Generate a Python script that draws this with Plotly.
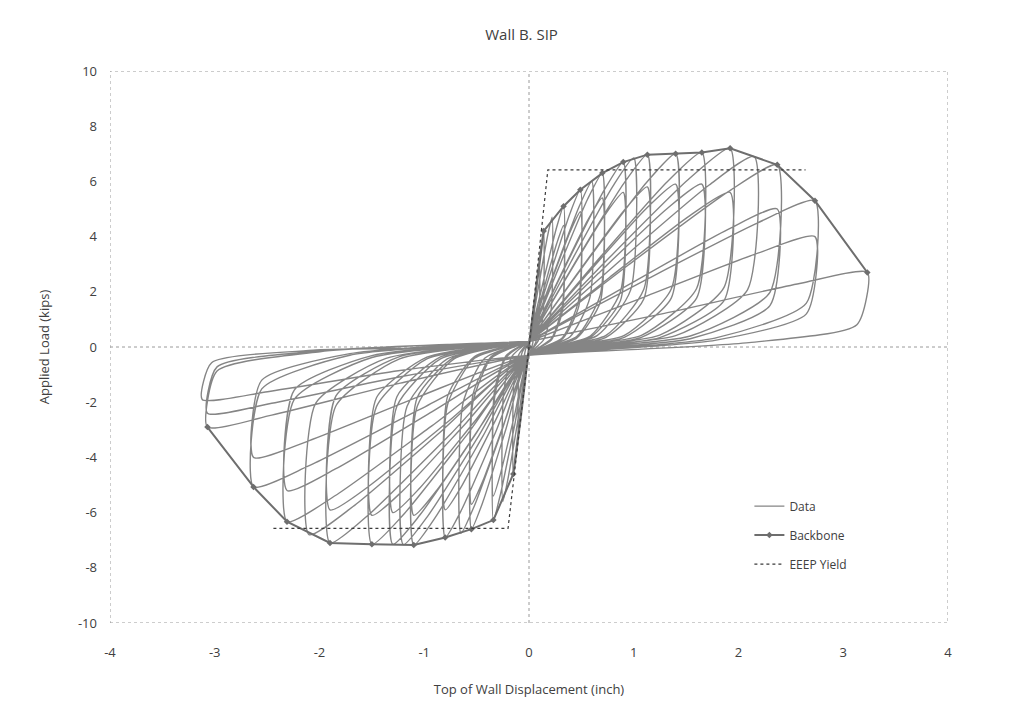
import plotly.graph_objects as go

# ---------------- data ----------------
title_text = "Wall B. SIP"
x_title = "Top of Wall Displacement (inch)"
y_title = "Applied Load (kips)"

x_ticks = [-4, -3, -2, -1, 0, 1, 2, 3, 4]
x_tick_labels = ["-4", "-3", "-2", "-1", "0", "1", "2", "3", "4"]
y_ticks = [-10, -8, -6, -4, -2, 0, 2, 4, 6, 8, 10]
y_tick_labels = ["-10", "-8", "-6", "-4", "-2", "0", "2", "4", "6", "8", "10"]

# hysteresis loops (displacement in inch, load in kips), one list per cycle
loop_disp = [
    [0, 0.02, 0.04, 0.05, 0.048, 0.033, 0, -0.02, -0.04, -0.05, -0.048, -0.033, 0],
    [0, 0.04, 0.08, 0.1, 0.097, 0.065, 0, -0.04, -0.08, -0.1, -0.097, -0.065, 0],
    [0, 0.056, 0.112, 0.14, 0.136, 0.091, 0, -0.06, -0.12, -0.15, -0.146, -0.098, 0],
    [0, 0.088, 0.176, 0.22, 0.213, 0.143, 0, -0.1, -0.2, -0.25, -0.243, -0.163, 0],
    [0, 0.132, 0.264, 0.33, 0.32, 0.215, 0, -0.136, -0.272, -0.34, -0.33, -0.221, 0],
    [0, 0.132, 0.264, 0.33, 0.32, 0.215, 0, -0.136, -0.272, -0.34, -0.33, -0.221, 0],
    [0, 0.196, 0.392, 0.49, 0.475, 0.319, 0, -0.22, -0.44, -0.55, -0.534, -0.358, 0],
    [0, 0.196, 0.392, 0.49, 0.475, 0.319, 0, -0.22, -0.44, -0.55, -0.534, -0.358, 0],
    [0, 0.24, 0.48, 0.6, 0.582, 0.39, 0, -0.26, -0.52, -0.65, -0.63, -0.423, 0],
    [0, 0.28, 0.56, 0.7, 0.68, 0.455, 0, -0.32, -0.64, -0.8, -0.776, -0.52, 0],
    [0, 0.28, 0.56, 0.7, 0.68, 0.455, 0, -0.32, -0.64, -0.8, -0.776, -0.52, 0],
    [0, 0.36, 0.72, 0.9, 0.873, 0.585, 0, -0.44, -0.88, -1.1, -1.067, -0.715, 0],
    [0, 0.36, 0.72, 0.9, 0.873, 0.585, 0, -0.44, -0.88, -1.1, -1.067, -0.715, 0],
    [0, 0.4, 0.8, 1.0, 0.97, 0.65, 0, -0.48, -0.96, -1.2, -1.164, -0.78, 0],
    [0, 0.452, 0.904, 1.13, 1.096, 0.735, 0, -0.52, -1.04, -1.3, -1.261, -0.845, 0],
    [0, 0.452, 0.904, 1.13, 1.096, 0.735, 0, -0.52, -1.04, -1.3, -1.261, -0.845, 0],
    [0, 0.56, 1.12, 1.4, 1.358, 0.91, 0, -0.6, -1.2, -1.5, -1.455, -0.975, 0],
    [0, 0.56, 1.12, 1.4, 1.358, 0.91, 0, -0.6, -1.2, -1.5, -1.455, -0.975, 0],
    [0, 0.66, 1.32, 1.65, 1.6, 1.073, 0, -0.76, -1.52, -1.9, -1.843, -1.235, 0],
    [0, 0.66, 1.32, 1.65, 1.6, 1.073, 0, -0.76, -1.52, -1.9, -1.843, -1.235, 0],
    [0, 0.768, 1.536, 1.92, 1.862, 1.248, 0, -0.924, -1.848, -2.31, -2.241, -1.5, 0],
    [0, 0.768, 1.536, 1.92, 1.862, 1.248, 0, -0.924, -1.848, -2.31, -2.241, -1.5, 0],
    [0, 0.86, 1.72, 2.15, 2.086, 1.4, 0, -0.84, -1.68, -2.1, -2.037, -1.365, 0],
    [0, 0.948, 1.896, 2.37, 2.3, 1.54, 0, -1.052, -2.104, -2.63, -2.551, -1.71, 0],
    [0, 0.948, 1.896, 2.37, 2.3, 1.54, 0, -1.052, -2.104, -2.63, -2.551, -1.71, 0],
    [0, 1.092, 2.184, 2.73, 2.648, 1.775, 0, -1.228, -2.456, -3.07, -2.978, -1.996, 0],
    [0, 1.092, 2.184, 2.73, 2.648, 1.775, 0, -1.228, -2.456, -3.07, -2.978, -1.996, 0],
    [0, 1.292, 2.584, 3.23, 3.13, 2.1, 0, -1.248, -2.496, -3.12, -3.03, -2.03, 0],
]
loop_load = [
    [0.2, 0.68, 1.28, 1.5, 0.45, 0.09, -0.3, -0.68, -1.28, -1.5, -0.45, -0.09, 0.2],
    [0.2, 1.35, 2.55, 3.0, 0.9, 0.18, -0.3, -1.44, -2.72, -3.2, -0.96, -0.19, 0.2],
    [0.2, 1.89, 3.57, 4.2, 1.26, 0.25, -0.3, -2.07, -3.91, -4.6, -1.38, -0.28, 0.2],
    [0.2, 2.12, 4.0, 4.7, 1.41, 0.28, -0.3, -2.52, -4.76, -5.6, -1.68, -0.34, 0.2],
    [0.2, 2.3, 4.34, 5.1, 1.53, 0.31, -0.3, -2.82, -5.33, -6.27, -1.88, -0.38, 0.2],
    [0.2, 1.98, 3.74, 4.4, 1.32, 0.26, -0.3, -2.43, -4.59, -5.4, -1.62, -0.32, 0.2],
    [0.2, 2.57, 4.85, 5.7, 1.71, 0.34, -0.3, -2.97, -5.61, -6.6, -1.98, -0.4, 0.2],
    [0.2, 2.2, 4.17, 4.9, 1.47, 0.29, -0.3, -2.57, -4.85, -5.7, -1.71, -0.34, 0.2],
    [0.2, 2.7, 5.1, 6.0, 1.8, 0.36, -0.3, -3.04, -5.74, -6.75, -2.03, -0.41, 0.2],
    [0.2, 2.84, 5.36, 6.3, 1.89, 0.38, -0.3, -3.1, -5.87, -6.9, -2.07, -0.41, 0.2],
    [0.2, 2.43, 4.59, 5.4, 1.62, 0.32, -0.3, -2.66, -5.02, -5.9, -1.77, -0.35, 0.2],
    [0.2, 3.02, 5.7, 6.7, 2.01, 0.4, -0.3, -3.23, -6.09, -7.17, -2.15, -0.43, 0.2],
    [0.2, 2.52, 4.76, 5.6, 1.68, 0.34, -0.3, -2.75, -5.19, -6.1, -1.83, -0.37, 0.2],
    [0.2, 3.08, 5.82, 6.85, 2.06, 0.41, -0.3, -3.22, -6.09, -7.16, -2.15, -0.43, 0.2],
    [0.2, 3.14, 5.92, 6.97, 2.09, 0.42, -0.3, -3.22, -6.08, -7.15, -2.15, -0.43, 0.2],
    [0.2, 2.61, 4.93, 5.8, 1.74, 0.35, -0.3, -2.7, -5.1, -6.0, -1.8, -0.36, 0.2],
    [0.2, 3.15, 5.95, 7.0, 2.1, 0.42, -0.3, -3.22, -6.08, -7.15, -2.15, -0.43, 0.2],
    [0.2, 2.66, 5.02, 5.9, 1.77, 0.35, -0.3, -2.75, -5.19, -6.1, -1.83, -0.37, 0.2],
    [0.2, 3.17, 5.99, 7.05, 2.12, 0.42, -0.3, -3.2, -6.04, -7.1, -2.13, -0.43, 0.2],
    [0.2, 2.66, 5.02, 5.9, 1.77, 0.35, -0.3, -2.66, -5.02, -5.9, -1.77, -0.35, 0.2],
    [0.2, 3.24, 6.12, 7.2, 2.16, 0.43, -0.3, -2.85, -5.38, -6.33, -1.9, -0.38, 0.2],
    [0.2, 2.52, 4.76, 5.6, 1.68, 0.34, -0.3, -2.34, -4.42, -5.2, -1.56, -0.31, 0.2],
    [0.2, 3.1, 5.87, 6.9, 2.07, 0.41, -0.3, -3.06, -5.78, -6.8, -2.04, -0.41, 0.2],
    [0.2, 2.97, 5.61, 6.6, 1.98, 0.4, -0.3, -2.28, -4.31, -5.07, -1.52, -0.3, 0.2],
    [0.2, 2.25, 4.25, 5.0, 1.5, 0.3, -0.3, -1.8, -3.4, -4.0, -1.2, -0.24, 0.2],
    [0.2, 2.39, 4.5, 5.3, 1.59, 0.32, -0.3, -1.31, -2.47, -2.9, -0.87, -0.17, 0.2],
    [0.2, 1.8, 3.4, 4.0, 1.2, 0.24, -0.3, -1.08, -2.04, -2.4, -0.72, -0.14, 0.2],
    [0.2, 1.22, 2.3, 2.7, 0.81, 0.16, -0.3, -0.86, -1.62, -1.9, -0.57, -0.11, 0.2],
]

backbone_disp = [-3.07, -2.63, -2.31, -1.9, -1.5, -1.1, -0.8, -0.55, -0.34, -0.15, 0,
                 0.14, 0.33, 0.49, 0.7, 0.9, 1.13, 1.4, 1.65, 1.92, 2.37, 2.73, 3.23]
backbone_load = [-2.9, -5.07, -6.33, -7.1, -7.15, -7.17, -6.9, -6.6, -6.27, -4.6, 0,
                 4.2, 5.1, 5.7, 6.3, 6.7, 6.97, 7.0, 7.05, 7.2, 6.6, 5.3, 2.7]

eeep_disp = [-2.44, -0.2, 0, 0.18, 2.64]
eeep_load = [-6.57, -6.57, 0, 6.42, 6.42]

# ---------------- figure ----------------
data_x, data_y = [], []
for xs, ys in zip(loop_disp, loop_load):
    data_x.extend(xs)
    data_y.extend(ys)

font_family = "Open Sans, Lato, DejaVu Sans, sans-serif"

fig = go.Figure()
fig.add_trace(go.Scatter(
    x=data_x, y=data_y, mode="lines", name="Data", legendgroup="a",
    line=dict(color="#858585", width=1.4, shape="spline", smoothing=0.6),
))
fig.add_trace(go.Scatter(
    x=backbone_disp, y=backbone_load, mode="lines+markers", name="Backbone", legendgroup="b",
    line=dict(color="#6e6e6e", width=2),
    marker=dict(symbol="diamond", size=5, color="#6e6e6e"),
))
fig.add_trace(go.Scatter(
    x=eeep_disp, y=eeep_load, mode="lines", name="EEEP Yield", legendgroup="c",
    line=dict(color="#3a3a3a", width=1.2, dash="dot"),
))

grey_dot = dict(color="#9a9a9a", width=1, dash="dot")
fig.add_shape(type="rect", xref="x", yref="y", x0=-4, x1=4, y0=-10, y1=10, line=grey_dot, layer="below")
fig.add_shape(type="line", xref="x", yref="y", x0=0, x1=0, y0=-10, y1=10, line=grey_dot, layer="below")
fig.add_shape(type="line", xref="x", yref="y", x0=-4, x1=4, y0=0, y1=0, line=grey_dot, layer="below")

fig.update_layout(
    width=1013, height=722,
    margin=dict(l=102, r=73, t=63, b=107, autoexpand=False),
    paper_bgcolor="white", plot_bgcolor="white",
    font=dict(family=font_family, color="#404040", size=13),
    title=dict(text=title_text, x=0.507, xanchor="center", y=0.963, yanchor="middle",
               font=dict(size=15, color="#404040")),
    xaxis=dict(range=[-4, 4], tickvals=x_ticks, ticktext=x_tick_labels, showgrid=False,
               zeroline=False, showline=False, ticks="", automargin=False,
               ticklabelstandoff=20,
               title=dict(text=x_title, font=dict(size=13), standoff=24)),
    yaxis=dict(range=[-10, 10], tickvals=y_ticks, ticktext=y_tick_labels, showgrid=False,
               zeroline=False, showline=False, ticks="", automargin=False,
               ticklabelstandoff=12,
               title=dict(text=y_title, font=dict(size=13), standoff=25)),
    legend=dict(x=0.763, y=0.238, xanchor="left", yanchor="top", bgcolor="rgba(0,0,0,0)",
                font=dict(size=12, color="#404040"), tracegroupgap=10),
    showlegend=True,
)

fig.write_html("out.html")
